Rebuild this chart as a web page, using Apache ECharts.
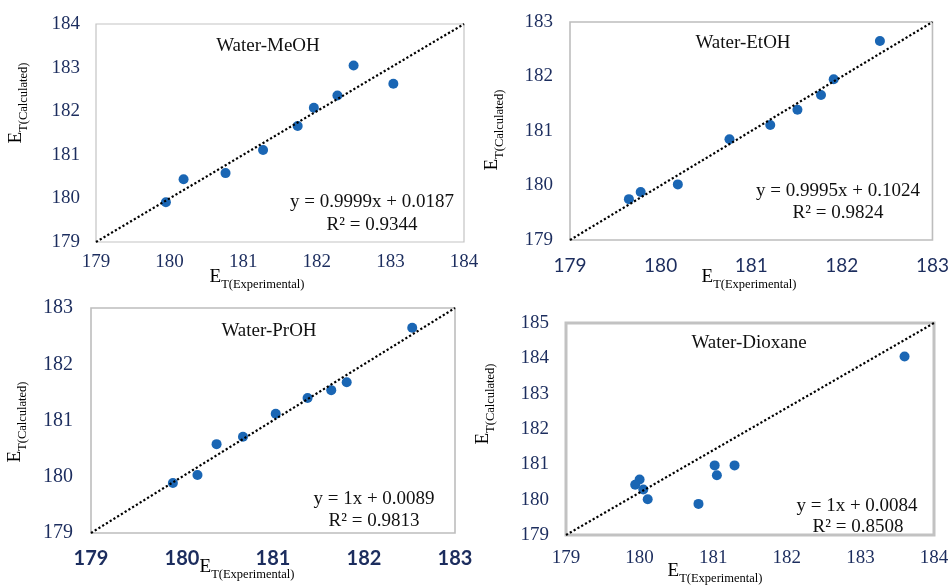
<!DOCTYPE html>
<html>
<head>
<meta charset="utf-8">
<script src="https://cdn.jsdelivr.net/npm/echarts@6/dist/echarts.min.js"></script>
<style>
html,body{margin:0;padding:0;background:#fff;}
#chart{width:952px;height:586px;}
</style>
</head>
<body>
<div id="chart"></div>
<script>
// ---- Data ----
const panelTitles = ['Water-MeOH', 'Water-EtOH', 'Water-PrOH', 'Water-Dioxane'];
const equations = ['y = 0.9999x + 0.0187', 'y = 0.9995x + 0.1024', 'y = 1x + 0.0089', 'y = 1x + 0.0084'];
const r2Labels = ['R\u00B2 = 0.9344', 'R\u00B2 = 0.9824', 'R\u00B2 = 0.9813', 'R\u00B2 = 0.8508'];

const meohExp  = [179.95, 180.19, 180.76, 181.27, 181.74, 181.96, 182.28, 182.50, 183.04];
const meohCalc = [179.91, 180.44, 180.58, 181.11, 181.66, 182.08, 182.36, 183.05, 182.63];

const etohExp  = [179.65, 179.78, 180.19, 180.76, 181.21, 181.51, 181.77, 181.91, 182.42];
const etohCalc = [179.75, 179.88, 180.02, 180.85, 181.11, 181.39, 181.66, 181.95, 182.65];

const prohExp  = [179.90, 180.17, 180.38, 180.67, 181.03, 181.38, 181.64, 181.81, 182.53];
const prohCalc = [179.89, 180.03, 180.58, 180.71, 181.12, 181.40, 181.54, 181.68, 182.65];

const dioxExp  = [183.60, 181.29, 181.02, 181.05, 180.80, 180.00, 179.94, 180.05, 180.11];
const dioxCalc = [184.05, 180.97, 180.97, 180.69, 179.88, 180.57, 180.42, 180.29, 180.01];

// trend line end points as drawn
const meohTrend = [[179, 179], [184, 184]];
const etohTrend = [[179, 179], [183, 183]];
const prohTrend = [[179, 179], [183, 183]];
const dioxTrend = [[179, 179], [184, 185]];

// axis tick labels
const meohXTicks = [179, 180, 181, 182, 183, 184];
const meohYTicks = [179, 180, 181, 182, 183, 184];
const etohXTicks = [179, 180, 181, 182, 183];
const etohYTicks = [179, 180, 181, 182, 183];
const prohXTicks = [179, 180, 181, 182, 183];
const prohYTicks = [179, 180, 181, 182, 183];
const dioxXTicks = [179, 180, 181, 182, 183, 184];
const dioxYTicks = [179, 180, 181, 182, 183, 184, 185];

// ---- Build ----
const pairs = (xs, ys) => xs.map((x, i) => [x, ys[i]]);
const panels = [
  {x: meohExp, y: meohCalc, trend: meohTrend, xt: meohXTicks, yt: meohYTicks},
  {x: etohExp, y: etohCalc, trend: etohTrend, xt: etohXTicks, yt: etohYTicks},
  {x: prohExp, y: prohCalc, trend: prohTrend, xt: prohXTicks, yt: prohYTicks},
  {x: dioxExp, y: dioxCalc, trend: dioxTrend, xt: dioxXTicks, yt: dioxYTicks}
];

const gridPos = [
  {left: 96, top: 24, width: 368, height: 218, borderWidth: 1.2, borderColor: '#c4c4c4'},
  {left: 570, top: 22, width: 370, height: 218, borderWidth: 1.6, borderColor: '#bdbdbd'},
  {left: 91, top: 308, width: 364, height: 225, borderWidth: 1.6, borderColor: '#bdbdbd'},
  {left: 566, top: 323, width: 368, height: 212, borderWidth: 3, borderColor: '#c2c2c2'}
];
const tickColor = '#1c2d5e';
const serif = '"Liberation Serif", "Times New Roman", serif';
const sans = 'Lato, "Open Sans", sans-serif';
const xLabelStyle = [
  {fontFamily: serif, fontSize: 19, margin: 11},
  {fontFamily: sans, fontSize: 19, margin: 16},
  {fontFamily: sans, fontSize: 20, fontWeight: 'bold', margin: 16},
  {fontFamily: serif, fontSize: 19, margin: 14}
];
const yLabelStyle = [
  {fontFamily: serif, fontSize: 19, margin: 16},
  {fontFamily: serif, fontSize: 19, margin: 17},
  {fontFamily: serif, fontSize: 20, margin: 18},
  {fontFamily: serif, fontSize: 19, margin: 17}
];

const grids = [], xAxes = [], yAxes = [], series = [];
panels.forEach((p, i) => {
  grids.push(Object.assign({show: true, backgroundColor: 'transparent'}, gridPos[i]));
  xAxes.push({
    type: 'value', gridIndex: i, min: p.xt[0], max: p.xt[p.xt.length - 1], interval: 1,
    axisLine: {show: false}, axisTick: {show: false}, splitLine: {show: false},
    axisLabel: Object.assign({color: tickColor}, xLabelStyle[i])
  });
  yAxes.push({
    type: 'value', gridIndex: i, min: p.yt[0], max: p.yt[p.yt.length - 1], interval: 1,
    axisLine: {show: false}, axisTick: {show: false}, splitLine: {show: false},
    axisLabel: Object.assign({color: tickColor}, yLabelStyle[i])
  });
  series.push({
    type: 'scatter', xAxisIndex: i, yAxisIndex: i, data: pairs(p.x, p.y),
    symbolSize: 10, itemStyle: {color: '#1a66b4', opacity: 1}, z: 2
  });
  series.push({
    type: 'line', xAxisIndex: i, yAxisIndex: i, data: p.trend, symbol: 'none',
    lineStyle: {color: '#000', width: 2.2, type: [2.2, 2.2]}, z: 3, silent: true
  });
});

const titlePos = [[268, 46], [743, 43], [269, 331], [749, 343]];
const eqPos = [[372, 202], [838, 191], [374, 499], [857, 506]];
const r2Pos = [[372, 225], [838, 213], [374, 521], [858, 527]];
const yTitlePos = [[20, 103], [496, 130], [19, 422], [487, 404]];
const xTitlePos = [[257, 281], [749, 281], [247, 571], [715, 575]];

const richName = {
  e: {fontFamily: serif, fontSize: 19, color: '#111', lineHeight: 20, padding: [0, 0, 4, 0], verticalAlign: 'bottom'},
  s: {fontFamily: serif, fontSize: 12.5, color: '#111', lineHeight: 13, verticalAlign: 'bottom'}
};

const graphic = [];
panelTitles.forEach((t, i) => {
  graphic.push({type: 'text', x: titlePos[i][0], y: titlePos[i][1],
    style: {text: t, font: '19px ' + serif, fill: '#111', align: 'center', verticalAlign: 'middle'}});
  graphic.push({type: 'text', x: eqPos[i][0], y: eqPos[i][1],
    style: {text: equations[i], font: '19px ' + serif, fill: '#111', align: 'center', verticalAlign: 'middle'}});
  graphic.push({type: 'text', x: r2Pos[i][0], y: r2Pos[i][1],
    style: {text: r2Labels[i], font: '19px ' + serif, fill: '#111', align: 'center', verticalAlign: 'middle'}});
  graphic.push({type: 'text', x: yTitlePos[i][0], y: yTitlePos[i][1], rotation: Math.PI / 2,
    style: {text: '{e|E}{s|T(Calculated)}', rich: richName, align: 'center', verticalAlign: 'middle'}});
  graphic.push({type: 'text', x: xTitlePos[i][0], y: xTitlePos[i][1],
    style: {text: '{e|E}{s|T(Experimental)}', rich: richName, align: 'center', verticalAlign: 'middle'}});
});

const chart = echarts.init(document.getElementById('chart'), null, {renderer: 'canvas'});
chart.setOption({
  animation: false,
  backgroundColor: '#ffffff',
  grid: grids,
  xAxis: xAxes,
  yAxis: yAxes,
  series: series,
  graphic: graphic
});
</script>
</body>
</html>
